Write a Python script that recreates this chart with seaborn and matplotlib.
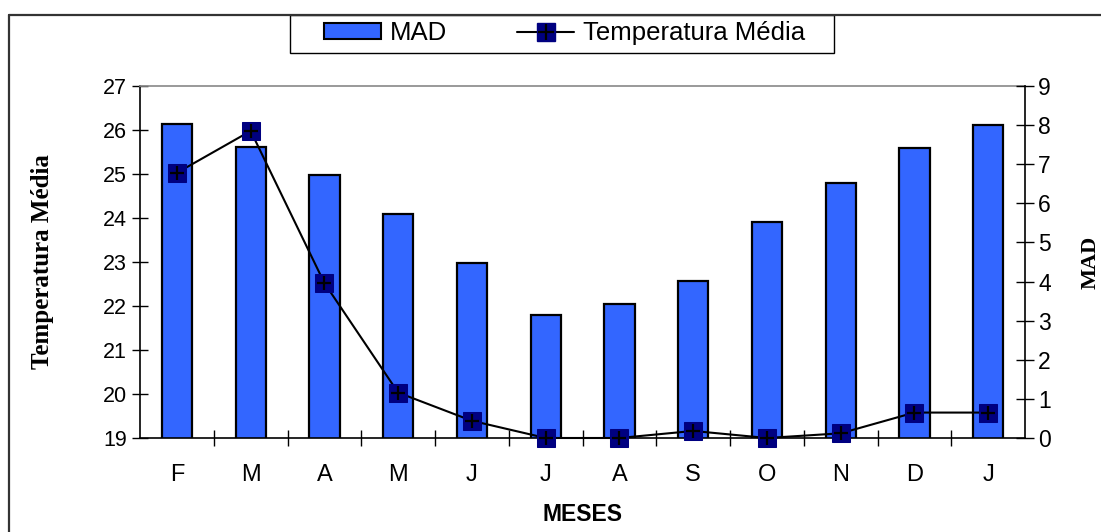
import numpy as np
import matplotlib
matplotlib.use("Agg")
import matplotlib.pyplot as plt
from matplotlib.lines import Line2D
from matplotlib.patches import Patch, Rectangle
from matplotlib.legend_handler import HandlerTuple
from matplotlib.ticker import FixedLocator, NullFormatter
import seaborn as sns

# Monthly data (Feb through Jan)
months = ["F", "M", "A", "M", "J", "J", "A", "S", "O", "N", "D", "J"]
bar_values = [26.14, 25.62, 24.98, 24.08, 22.98, 21.80, 22.05, 22.57, 23.90, 24.80, 25.59, 26.11]
line_values = [6.78, 7.85, 3.96, 1.16, 0.44, 0.0, 0.0, 0.18, 0.0, 0.12, 0.65, 0.65]

bar_label = "MAD"
line_label = "Temperatura Média"
left_ticks = [19, 20, 21, 22, 23, 24, 25, 26, 27]
right_ticks = [0, 1, 2, 3, 4, 5, 6, 7, 8, 9]

sns.set_theme(style="white")
plt.rcParams["font.family"] = ["Liberation Sans", "DejaVu Sans"]
plt.rcParams["text.color"] = "black"
plt.rcParams["axes.labelcolor"] = "black"
plt.rcParams["xtick.color"] = "black"
plt.rcParams["ytick.color"] = "black"

BAR_BLUE = "#3366FF"
NAVY = "#000080"
SERIF = ["Liberation Serif", "DejaVu Serif"]
W, H = 1101, 532

fig = plt.figure(figsize=(W / 100, H / 100), dpi=100)
ax = fig.add_axes([0.1272, 0.1767, 0.8038, 0.6617])

x = np.arange(len(months))
sns.barplot(x=x, y=bar_values, ax=ax, color=BAR_BLUE, saturation=1,
            width=0.41, edgecolor="black", linewidth=1.6, zorder=2)
ax.set_ylim(19, 27)
ax.set_xlim(-0.5, len(months) - 0.5)

ax2 = ax.twinx()
sns.lineplot(x=x, y=line_values, ax=ax2, color="black", linewidth=1.5,
             marker="s", markersize=13.5, markerfacecolor=NAVY,
             markeredgecolor=NAVY, clip_on=False, zorder=3)
sns.scatterplot(x=x, y=line_values, ax=ax2, marker="+", color="black",
                s=110, linewidth=1.6, clip_on=False, zorder=4)
ax2.set_ylim(0, 9)
ax2.set_xlim(-0.5, len(months) - 0.5)

# Axis ticks and labels
ax.set_yticks(left_ticks)
ax.set_yticklabels([str(t) for t in left_ticks], fontsize=15.5)
ax2.set_yticks(right_ticks)
ax2.set_yticklabels([str(t) for t in right_ticks], fontsize=16.5)
ax.set_xticks(x)
ax.set_xticklabels(months, fontsize=17)
ax.xaxis.set_minor_locator(FixedLocator(np.arange(0.5, len(months) - 1, 1)))
ax.xaxis.set_minor_formatter(NullFormatter())
ax.tick_params(axis="x", which="major", length=0, pad=19)
ax.tick_params(axis="x", which="minor", direction="inout", length=12,
               width=1, color="black", bottom=True)
ax.tick_params(axis="y", direction="inout", length=11, width=1,
               color="black", left=True, pad=4)
ax2.tick_params(axis="y", direction="inout", length=13, width=1,
                color="black", right=True, pad=3)

for a in (ax, ax2):
    for s in a.spines.values():
        s.set_visible(False)
ax.spines["left"].set_visible(True)
ax.spines["left"].set_color("black")
ax.spines["left"].set_linewidth(1.2)
ax.spines["bottom"].set_visible(True)
ax.spines["bottom"].set_color("black")
ax.spines["bottom"].set_linewidth(1.2)
ax.spines["top"].set_visible(True)
ax.spines["top"].set_color("#888888")
ax.spines["top"].set_linewidth(1.2)
ax2.spines["right"].set_visible(True)
ax2.spines["right"].set_color("black")
ax2.spines["right"].set_linewidth(1.2)
ax.grid(False)
ax2.grid(False)

ax.set_xlabel("MESES", fontsize=16.5, fontweight="bold", labelpad=12)
ax.set_ylabel("Temperatura Média", fontsize=18, fontweight="bold",
              family=SERIF, labelpad=35)
ax2.set_ylabel("MAD", fontsize=16, fontweight="bold", family=SERIF,
               labelpad=21)

# Legend above the plot, inside a fixed box
square = Line2D([0], [0], color="black", linewidth=1.5, marker="s",
                markersize=13, markerfacecolor=NAVY, markeredgecolor=NAVY)
plus = Line2D([0], [0], linestyle="none", marker="+", markersize=11,
              markeredgewidth=1.6, color="black")
handles = [
    Patch(facecolor=BAR_BLUE, edgecolor="black", linewidth=1.5),
    (square, plus),
]
fig.legend(handles, [bar_label, line_label], loc="center left",
           bbox_to_anchor=(324 / W, 1 - 33 / H), ncol=2, fontsize=18.5,
           frameon=False, handler_map={tuple: HandlerTuple(ndivide=1)},
           handlelength=2.2, handleheight=0.55, handletextpad=0.35,
           columnspacing=2.75, borderpad=0, borderaxespad=0)
fig.add_artist(Rectangle((289.5 / W, 1 - 52.5 / H), 544 / W, 38 / H,
                         transform=fig.transFigure, fill=False,
                         edgecolor="black", lw=1.0))

# Outer border lines (top and left)
fig.add_artist(Line2D([8.5 / W, 1.0], [1 - 14.5 / H, 1 - 14.5 / H],
                      transform=fig.transFigure, color="#333333", lw=1.6))
fig.add_artist(Line2D([8.5 / W, 8.5 / W], [0.0, 1 - 14.5 / H],
                      transform=fig.transFigure, color="#333333", lw=1.6))

fig.savefig("out.png", dpi=100)
